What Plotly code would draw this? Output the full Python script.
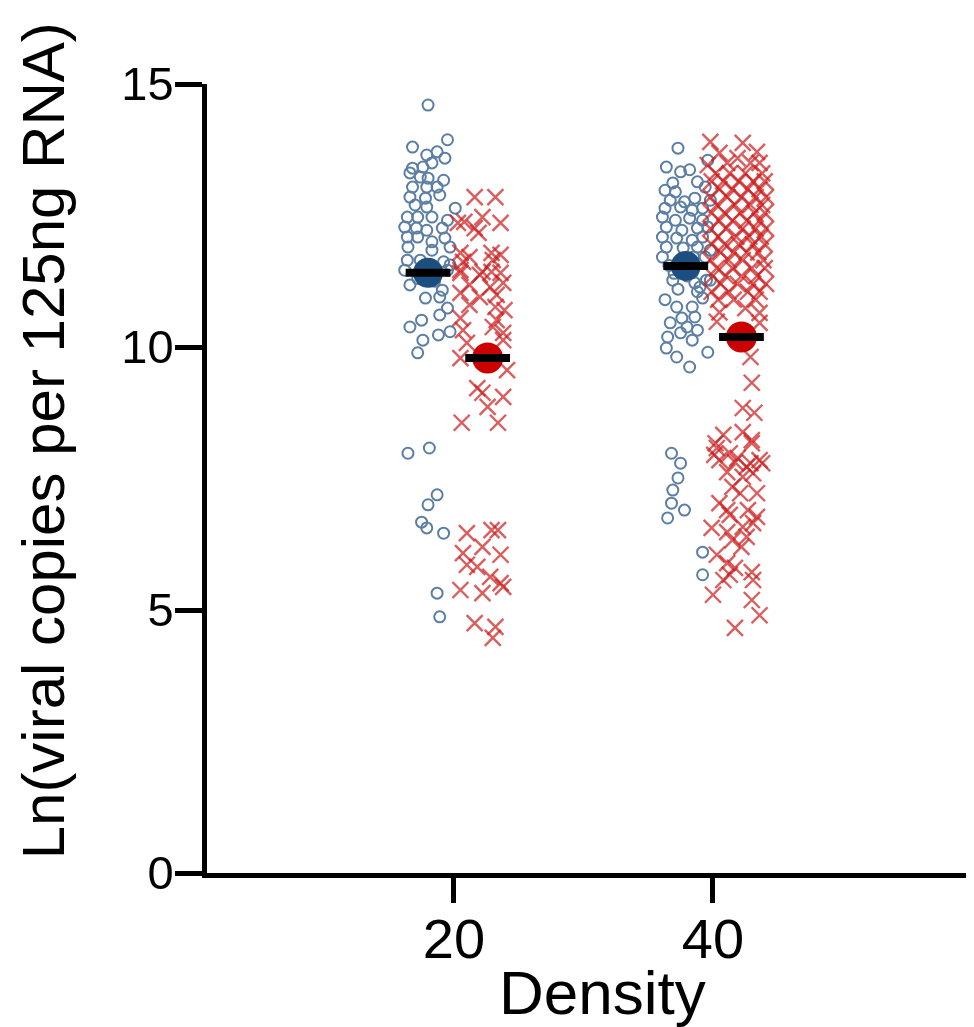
import plotly.graph_objects as go

# ---- data ----
density_ticks = [20, 40]
tick_labels = ["20", "40"]
y_ticks = [0, 5, 10, 15]

blue20_x = [18.0, 19.5, 16.8, 17.9, 18.7, 19.3, 16.8, 17.6, 18.3, 16.6, 17.4, 18.0, 19.2, 16.8, 17.9, 18.7,
            16.6, 17.8, 18.9, 17.0, 17.9, 20.1, 16.4, 17.2, 18.3, 19.5, 16.2, 17.1, 17.9, 19.1, 16.4, 17.2,
            18.3, 19.3, 16.45, 18.3, 19.7, 16.4, 17.4, 19.2, 16.2, 19.5, 19.7, 17.2, 18.5, 16.6, 19.1, 17.8,
            18.9, 19.5, 18.9, 16.6, 17.5, 17.6, 18.8, 19.7, 17.2, 16.45, 18.1, 18.7, 18.0, 17.5, 17.9, 19.2,
            18.7, 18.9]
blue20_y = [14.60, 13.94, 13.80, 13.65, 13.71, 13.59, 13.40, 13.42, 13.50, 13.31, 13.23, 13.21, 13.17, 13.04, 13.04, 13.04,
            12.85, 12.83, 12.89, 12.70, 12.66, 12.64, 12.47, 12.47, 12.47, 12.41, 12.28, 12.26, 12.22, 12.26, 12.09, 12.09,
            12.00, 12.07, 11.90, 11.84, 11.90, 11.65, 11.65, 11.62, 11.46, 11.46, 11.56, 11.30, 11.25, 11.18, 11.08, 10.93,
            10.95, 10.74, 10.61, 10.38, 10.51, 10.13, 10.23, 10.29, 9.89, 7.98, 8.08, 7.19, 7.00, 6.67, 6.56, 6.46,
            5.32, 4.87]

red20_x = [21.6, 23.2, 22.2, 20.8, 23.6, 20.3, 21.6, 21.9, 20.5, 22.9, 23.6, 21.2, 20.5, 22.2, 22.9, 20.7,
           23.0, 20.5, 22.0, 23.6, 21.2, 22.8, 23.8, 20.5, 22.0, 23.3, 21.2, 23.2, 23.9, 20.5, 23.3, 20.7,
           23.0, 23.8, 21.0, 23.8, 20.5, 24.1, 21.8, 22.2, 23.8, 22.6, 20.6, 23.4, 21.0, 22.9, 23.4, 20.7,
           22.2, 23.6, 21.0, 21.8, 22.8, 23.6, 20.5, 22.2, 23.8, 21.6, 23.2, 23.0]
red20_y = [12.85, 12.85, 12.47, 12.38, 12.36, 12.36, 12.26, 12.17, 11.79, 11.79, 11.75, 11.71, 11.46, 11.43, 11.43, 11.62,
           11.65, 11.41, 11.37, 11.41, 11.18, 11.14, 11.22, 11.03, 10.95, 10.99, 10.80, 10.76, 10.70, 10.55, 10.51, 10.32,
           10.38, 10.27, 10.08, 10.13, 9.79, 9.56, 9.22, 9.13, 9.05, 8.86, 8.56, 8.56, 6.46, 6.52, 6.52, 6.08,
           6.20, 6.05, 5.86, 5.82, 5.63, 5.51, 5.38, 5.32, 5.44, 4.75, 4.68, 4.47]

blue40_x = [37.3, 36.4, 39.6, 37.5, 38.2, 36.9, 38.8, 36.3, 37.1, 39.4, 36.7, 37.8, 38.6, 39.8, 36.3, 37.5,
            38.4, 39.2, 36.1, 37.1, 38.2, 39.2, 36.4, 37.6, 38.8, 39.6, 36.1, 37.2, 38.4, 39.2, 36.4, 37.7,
            38.8, 39.8, 36.1, 38.5, 39.4, 36.6, 37.0, 38.0, 38.4, 39.5, 39.0, 36.9, 38.6, 39.8, 37.3, 38.8,
            36.3, 39.2, 37.2, 38.4, 37.6, 38.6, 36.7, 38.0, 38.8, 36.5, 37.5, 38.4, 36.4, 37.2, 39.6, 38.2,
            36.8, 37.5, 37.3, 36.9, 36.8, 37.8, 36.5, 39.2, 39.2]
blue40_y = [13.78, 13.42, 13.55, 13.33, 13.37, 13.12, 13.14, 12.98, 12.95, 13.04, 12.79, 12.76, 12.83, 12.79, 12.64, 12.66,
            12.60, 12.64, 12.47, 12.41, 12.45, 12.41, 12.28, 12.22, 12.26, 12.28, 12.09, 12.07, 12.03, 12.09, 11.90, 11.88,
            11.90, 11.84, 11.71, 11.71, 11.71, 11.55, 11.40, 11.35, 11.41, 11.27, 11.14, 11.27, 11.22, 11.27, 11.10, 11.05,
            10.90, 10.93, 10.76, 10.76, 10.55, 10.57, 10.46, 10.38, 10.32, 10.19, 10.27, 10.13, 9.98, 9.81, 9.90, 9.62,
            7.98, 7.79, 7.51, 7.28, 7.03, 6.90, 6.75, 6.10, 5.67]

red40_x = [39.8, 42.3, 43.4, 40.5, 39.6, 41.1, 41.9, 42.9, 43.6,
           40.2, 41.3, 42.5, 43.8, 39.9, 40.8, 42.0, 43.1, 44.0, 40.5, 41.5, 42.7, 43.6,
           39.8, 41.1, 42.2, 43.3, 44.1, 40.3, 41.7, 42.9, 43.8, 39.9, 40.9, 42.1, 43.2, 44.0,
           40.5, 41.5, 42.6, 43.6, 39.8, 41.0, 42.3, 43.3, 44.1, 40.4, 41.8, 42.8, 43.7,
           39.9, 40.9, 42.0, 43.1, 44.0, 40.6, 41.6, 42.6, 43.5, 39.8, 41.2, 42.3, 43.9,
           40.3, 41.5, 43.0, 44.0, 40.0, 41.0, 42.2, 43.4, 40.6, 41.9, 43.1, 44.1,
           39.9, 41.2, 42.7, 43.6, 40.4, 41.6, 43.3,
           40.5, 42.5, 43.6, 40.3, 43.6, 42.9, 43.0, 42.3, 43.2, 42.3, 43.0, 40.8, 40.2, 41.3,
           41.7, 40.5, 42.9, 43.6, 40.1, 42.6, 43.1, 40.3, 43.0, 41.9, 43.8, 41.1, 42.3, 41.5,
           42.1, 43.4, 40.5, 42.7, 43.4, 41.1, 41.3, 39.9, 41.1, 42.3, 43.1, 41.5, 42.6, 42.2,
           40.3, 41.1, 41.7, 43.0, 40.8, 41.3, 43.1, 40.0, 43.0, 43.6, 41.7]
red40_y = [13.90, 13.88, 13.71, 13.69, 13.46, 13.50, 13.59, 13.50, 13.50,
           13.30, 13.30, 13.30, 13.30, 13.15, 13.15, 13.15, 13.15, 13.15, 13.00, 13.00, 13.00, 13.00,
           12.85, 12.85, 12.85, 12.85, 12.85, 12.70, 12.70, 12.70, 12.70, 12.55, 12.55, 12.55, 12.55, 12.55,
           12.40, 12.40, 12.40, 12.40, 12.25, 12.25, 12.25, 12.25, 12.25, 12.10, 12.10, 12.10, 12.10,
           11.95, 11.95, 11.95, 11.95, 11.95, 11.80, 11.80, 11.80, 11.80, 11.65, 11.65, 11.65, 11.65,
           11.50, 11.50, 11.50, 11.50, 11.35, 11.35, 11.35, 11.35, 11.20, 11.20, 11.20, 11.20,
           11.05, 11.05, 11.05, 11.05, 10.90, 10.90, 10.90,
           10.66, 10.74, 10.65, 10.48, 10.46, 9.81, 9.32, 8.84, 8.75, 8.38, 8.23, 8.33, 8.17, 7.98,
           7.81, 7.85, 7.79, 7.85, 7.95, 7.72, 7.60, 8.08, 8.17, 7.89, 7.79, 7.62, 7.53, 7.34,
           7.22, 7.22, 7.03, 6.90, 6.77, 6.90, 6.81, 6.56, 6.48, 6.58, 6.65, 6.33, 6.39, 6.20,
           6.05, 5.89, 5.80, 5.72, 5.57, 5.67, 5.57, 5.29, 5.19, 4.90, 4.66]

blue_mean_x = [18.0, 37.9]
blue_mean_y = [11.41, 11.54]
red_mean_x = [22.6, 42.2]
red_mean_y = [9.79, 10.19]

BLUE = "rgb(62,104,148)"
BLUE_DARK = "rgb(28,78,128)"
RED = "rgba(205,30,30,0.72)"
RED_DARK = "rgb(205,0,0)"
FONT = "Liberation Sans, Arial, Helvetica, sans-serif"

fig = go.Figure()
fig.add_trace(go.Scatter(x=blue20_x + blue40_x, y=blue20_y + blue40_y, mode="markers",
                         marker=dict(symbol="circle-open", size=11, color=BLUE, line=dict(width=2, color=BLUE)),
                         opacity=0.85, showlegend=False))
fig.add_trace(go.Scatter(x=red20_x + red40_x, y=red20_y + red40_y, mode="markers",
                         marker=dict(symbol="x-thin-open", size=16, color=RED, line=dict(width=2.4, color=RED)),
                         showlegend=False))
fig.add_trace(go.Scatter(x=blue_mean_x, y=blue_mean_y, mode="markers",
                         marker=dict(symbol="circle", size=30, color=BLUE_DARK), showlegend=False))
fig.add_trace(go.Scatter(x=red_mean_x, y=red_mean_y, mode="markers",
                         marker=dict(symbol="circle", size=31, color=RED_DARK), showlegend=False))
fig.add_trace(go.Scatter(x=blue_mean_x + red_mean_x, y=blue_mean_y + red_mean_y, mode="markers",
                         marker=dict(symbol="line-ew", size=32, color="black", line=dict(width=8, color="black")),
                         showlegend=False))

# page body has an 8px default margin, so the figure is 8px smaller than the window
fig.update_layout(
    width=966, height=1019,
    margin=dict(l=199, r=4, t=76, b=154),
    paper_bgcolor="white", plot_bgcolor="white",
    font=dict(family=FONT, color="black"),
    annotations=[
        dict(text="Ln(viral copies per 125ng RNA)", textangle=-90,
             xref="paper", yref="paper", x=-0.214, y=0.548,
             xanchor="center", yanchor="middle", showarrow=False,
             font=dict(size=60, family=FONT, color="black")),
        dict(text="Density", xref="paper", yref="paper", x=0.518, y=-0.152,
             xanchor="center", yanchor="middle", showarrow=False,
             font=dict(size=62, family=FONT, color="black")),
    ],
)
fig.update_xaxes(range=[0.93, 59.85], tickvals=density_ticks, ticktext=tick_labels,
                 showline=True, linewidth=5, linecolor="black", ticks="outside", ticklen=25,
                 tickwidth=5, tickcolor="black", showgrid=False, zeroline=False,
                 tickfont=dict(size=56, family=FONT), ticklabelstandoff=-12)
fig.update_yaxes(range=[0, 15], tickvals=y_ticks,
                 showline=True, linewidth=5, linecolor="black", ticks="outside", ticklen=27,
                 tickwidth=5, tickcolor="black", showgrid=False, zeroline=False,
                 tickfont=dict(size=47, family=FONT), ticklabelstandoff=-8)

fig.write_html("out.html")
